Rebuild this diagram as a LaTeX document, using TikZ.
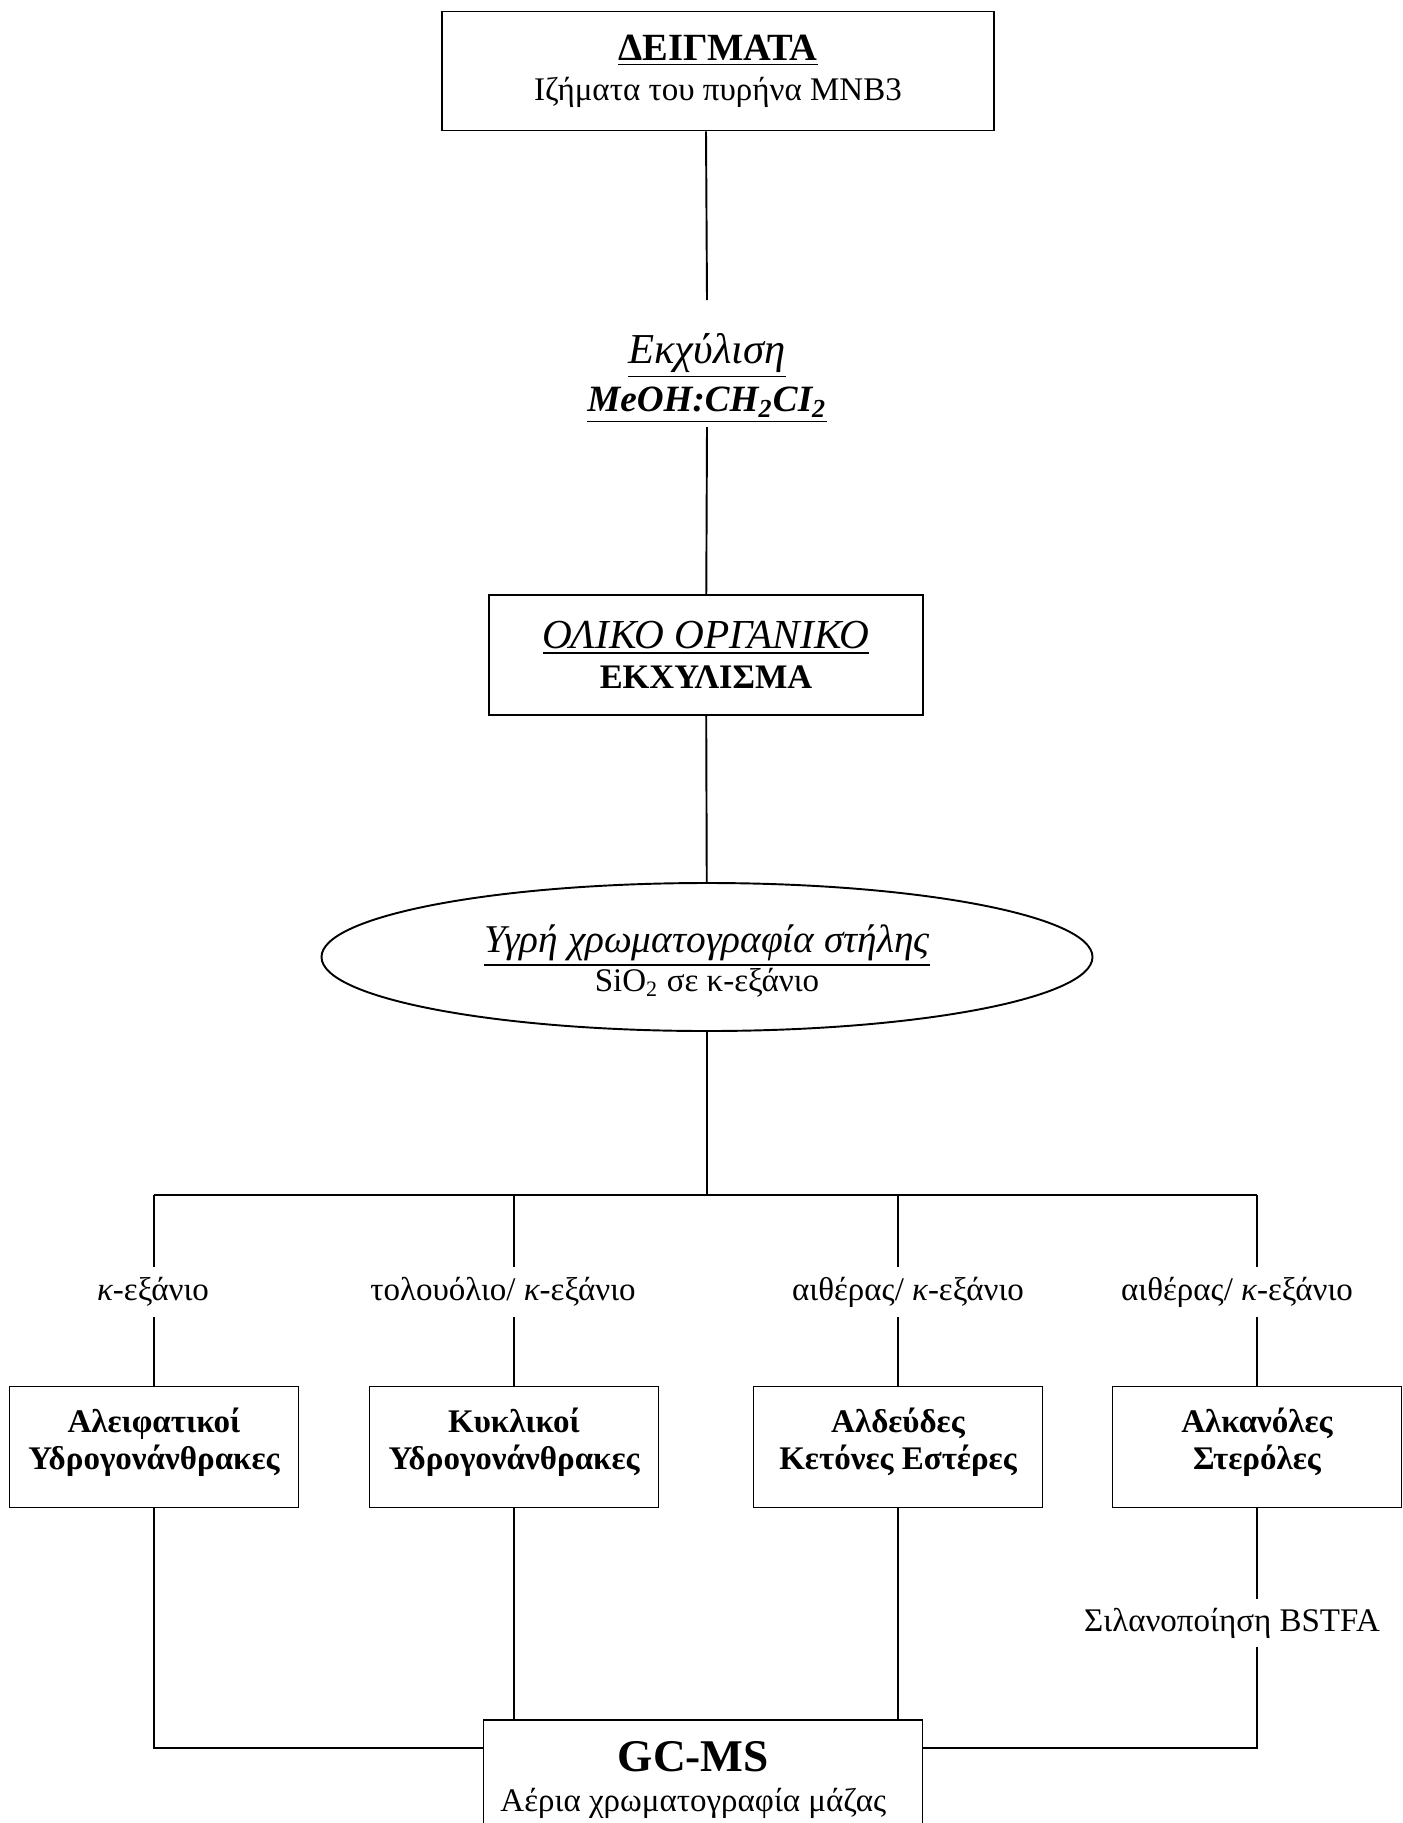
\documentclass[tikz,border=0pt]{standalone}
\usepackage{fontspec}
\setmainfont{Liberation Serif}
\usetikzlibrary{positioning, shapes.geometric}

\newcommand{\pxl}{0.3636pt}

\begin{document}
\begin{tikzpicture}[x=0.3636pt, y=-0.3636pt, line width=0.7pt,
    box/.style={draw, rectangle, align=center, inner sep=0pt, font=\fontsize{12}{14.5}\selectfont},
    fracbox/.style={box, minimum width=289*\pxl, minimum height=121*\pxl, font=\fontsize{12}{13.5}\selectfont\bfseries},
    lbl/.style={inner sep=0pt, minimum height=48*\pxl, font=\fontsize{12}{14}\selectfont}]
\useasboundingbox (0,0) rectangle (1402,1823);

% samples and extraction
\node[box, minimum width=552*\pxl, minimum height=119*\pxl] (samples) at (718,71)
    {{\fontsize{14}{15}\selectfont\bfseries\underline{ΔΕΙΓΜΑΤΑ}}\\Ιζήματα του πυρήνα MNB3};
\node[align=center, inner sep=0pt, font=\fontsize{13.5}{17.5}\selectfont] (extr) at (707,378)
    {{\fontsize{15.5}{17}\selectfont\textit{\underline{Εκχύλιση}}}\\\textbf{\textit{\underline{MeOH:CH\textsubscript{2}CI\textsubscript{2}}}}};
\coordinate (e1) at (707,300);
\coordinate (e2) at (707,427);

\node[box, minimum width=434*\pxl, minimum height=120*\pxl] (toe) at (706,655)
    {{\fontsize{15}{16}\selectfont\textit{\underline{ΟΛΙΚΟ ΟΡΓΑΝΙΚΟ}}}\\{\fontsize{12.5}{15}\selectfont\bfseries ΕΚΧΥΛΙΣΜΑ}};

% column chromatography
\node[draw, ellipse, align=center, inner sep=0pt, minimum width=771*\pxl, minimum height=148*\pxl,
    font=\fontsize{12}{14}\selectfont] (lc) at (707,957)
    {{\fontsize{14.3}{15}\selectfont\rule{0pt}{13pt}\textit{\underline{Υγρή χρωματογραφία στήλης}}}\\SiO\textsubscript{2} σε κ-εξάνιο};
\coordinate (bus) at (707,1195);

% fractions
\node[lbl] (l1) at (153,1292) {{\itshape κ}-εξάνιο};
\node[lbl] (l2) at (503,1292) {τολουόλιο/ {\itshape κ}-εξάνιο};
\node[lbl] (l3) at (908,1292) {αιθέρας/ {\itshape κ}-εξάνιο};
\node[lbl] (l4) at (1237,1292) {αιθέρας/ {\itshape κ}-εξάνιο};

\node[fracbox] (f1) at (154,1447) {Αλειφατικοί\\Υδρογονάνθρακες\rule[-6pt]{0pt}{6pt}};
\node[fracbox] (f2) at (514,1447) {Κυκλικοί\\Υδρογονάνθρακες\rule[-6pt]{0pt}{6pt}};
\node[fracbox] (f3) at (898,1447) {Αλδεύδες\\Κετόνες Εστέρες\rule[-6pt]{0pt}{6pt}};
\node[fracbox] (f4) at (1257,1447) {Αλκανόλες\\Στερόλες\rule[-6pt]{0pt}{6pt}};

\node[lbl, minimum height=47*\pxl] (sil) at (1232,1623) {Σιλανοποίηση BSTFA};

% GC-MS
\node[box, minimum width=439*\pxl, minimum height=120*\pxl] (gcms) at (703,1780)
    {{\fontsize{16.5}{17}\selectfont\bfseries GC-MS}\hspace*{7pt}\\Αέρια χρωματογραφία μάζας\hspace*{7pt}};
\coordinate (jn) at (703,1748);

\draw (samples.south -| toe.north) -- (e1);
\draw (e2) -- (toe);
\draw (toe) -- (lc);
\draw (lc) -- (bus);
\draw (bus -| f1) -- (bus -| f4);
\foreach \i in {1,...,4} {
    \draw (bus -| f\i) -- (l\i.north -| f\i);
    \draw (l\i.south -| f\i) -- (f\i);
}
\draw (f1) -- (f1 |- jn) -- (gcms.west |- jn);
\draw (f2) -- (f2 |- gcms.north);
\draw (f3) -- (f3 |- gcms.north);
\draw (f4) -- (sil.north -| f4);
\draw (sil.south -| f4) -- (f4 |- jn) -- (gcms.east |- jn);

\end{tikzpicture}
\end{document}
